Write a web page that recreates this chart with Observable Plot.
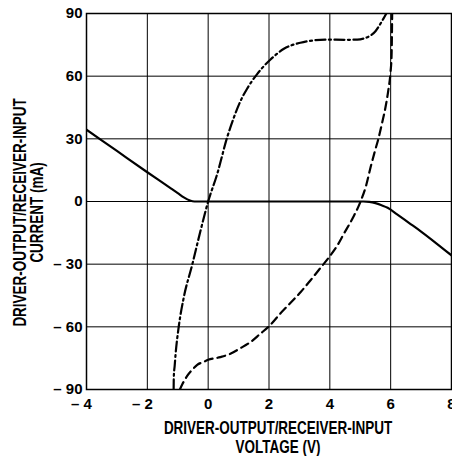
<!DOCTYPE html>
<html>
<head>
<meta charset="utf-8">
<script src="https://cdn.jsdelivr.net/npm/d3@7"></script>
<script src="https://cdn.jsdelivr.net/npm/@observablehq/plot@0.6"></script>
<style>
  html, body { margin: 0; padding: 0; background: #fff; }
</style>
</head>
<body>
<div id="chart"></div>
<script>
// Solid curve
const solidV = [-4, -3, -2, -1.5, -1.2, -1.0, -0.8, -0.6, -0.45, 0, 2, 4, 5.1, 5.3, 5.5, 5.7, 5.9, 6.2, 6.6, 7.0, 7.5, 8];
const solidI = [34.4, 24.2, 14, 9, 6, 4, 2, 0.5, 0, 0, 0, 0, 0, -0.2, -0.8, -1.8, -3, -6, -10.2, -14.4, -20, -25.8];

// Dash-dot curve
const dashDotV = [-1.135, -1.13, -1.1, -1.07, -0.97, -0.8, -0.53, -0.25, 0, 0.3, 0.63, 0.84, 1.06, 1.28, 1.61, 2.05, 2.49, 3.03, 3.5, 3.9, 4.5, 4.9, 5.15, 5.34, 5.5, 5.66, 5.78, 5.88];
const dashDotI = [-90, -84, -78.5, -72.9, -60.2, -45.8, -30.6, -13.9, 0, 13.3, 31, 40, 48, 54, 61, 68, 73.1, 76, 77.2, 77.5, 77.4, 77.5, 78.2, 79.5, 81.5, 85, 88, 90.6];

// Dashed curve
const dashedV = [-0.93, -0.85, -0.69, -0.5, -0.36, -0.15, 0, 0.4, 0.73, 1.05, 1.39, 1.7, 2.05, 2.38, 2.71, 3.05, 3.36, 3.67, 3.97, 4.25, 4.46, 4.75, 5.01, 5.2, 5.34, 5.48, 5.61, 5.72, 5.83, 5.92, 5.99, 6.03, 6.05];
const dashedI = [-90, -87.5, -83.5, -80.2, -78.2, -76.8, -75.8, -74.5, -72.9, -70.3, -67.3, -63.5, -59, -53.5, -48.5, -43.2, -37.8, -32.2, -26.7, -21, -15.5, -8, 0, 8, 16.4, 24, 30.8, 37.7, 45.1, 53, 61.1, 70, 91];

const xTicks = [-4, -2, 0, 2, 4, 6, 8];
const yTicks = [-90, -60, -30, 0, 30, 60, 90];
const xTitle = "DRIVER-OUTPUT/RECEIVER-INPUT\nVOLTAGE (V)";
const yTitle = "DRIVER-OUTPUT/RECEIVER-INPUT\nCURRENT (mA)";

const toRows = (vs, is) => vs.map((v, k) => ({v, i: is[k]}));
const solid = toRows(solidV, solidI);
const dashDot = toRows(dashDotV, dashDotI);
const dashed = toRows(dashedV, dashedI);

const FONT = "'Liberation Sans', 'DejaVu Sans', sans-serif";
const minusFmt = d => d < 0 ? "\u2013 " + (-d) : String(d);

const chart = Plot.plot({
  width: 452,
  height: 456,
  marginLeft: 86,
  marginRight: 1,
  marginTop: 13,
  marginBottom: 67,
  style: {fontFamily: FONT, fontWeight: "bold", fontSize: "15px", color: "#000", background: "#fff"},
  x: {domain: [-4, 8]},
  y: {domain: [-90, 90]},
  marks: [
    Plot.gridX(xTicks, {stroke: "#000", strokeOpacity: 1, strokeWidth: 1}),
    Plot.gridY(yTicks, {stroke: "#000", strokeOpacity: 1, strokeWidth: 1}),
    Plot.frame({stroke: "#000", strokeWidth: 1.5}),
    Plot.axisX(xTicks.filter(d => d < 0), {tickSize: 0, tickPadding: 9, tickFormat: minusFmt, dx: -5, label: null}),
    Plot.axisX(xTicks.filter(d => d >= 0), {tickSize: 0, tickPadding: 9, tickFormat: minusFmt, label: null}),
    Plot.axisY(yTicks, {tickSize: 0, tickPadding: 4, tickFormat: minusFmt, label: null}),
    Plot.line(solid, {x: "v", y: "i", stroke: "#000", strokeWidth: 2.2, curve: "monotone-x", clip: true}),
    Plot.line(dashDot, {x: "v", y: "i", stroke: "#000", strokeWidth: 2.2, strokeDasharray: "10,3.5,2,3.5", curve: "monotone-x", clip: true}),
    Plot.line(dashed, {x: "v", y: "i", stroke: "#000", strokeWidth: 2.2, strokeDasharray: "8,5", curve: "monotone-x", clip: true}),
    Plot.text([xTitle], {frameAnchor: "bottom", lineAnchor: "top", dx: 9, dy: 32, lineHeight: 1.04, fontSize: 17.5, fill: "#000"}),
    Plot.text([yTitle], {frameAnchor: "left", textAnchor: "middle", rotate: -90, dx: -57.5, dy: 11, lineHeight: 1.0, fontSize: 17.5, fill: "#000"})
  ]
});
document.getElementById("chart").appendChild(chart);
// condense the title lettering (the reference uses a narrow face)
chart.querySelectorAll('g[aria-label="text"] text').forEach(t => {
  const tr = t.getAttribute("transform") || "";
  t.setAttribute("transform", tr + " scale(0.77,1)");
});
</script>
</body>
</html>
